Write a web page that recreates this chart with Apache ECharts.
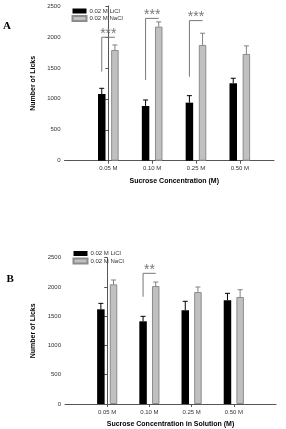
<!DOCTYPE html>
<html>
<head>
<meta charset="utf-8">
<script src="https://cdn.jsdelivr.net/npm/echarts@6/dist/echarts.min.js"></script>
<style>
html, body { margin: 0; padding: 0; background: #fff; }
#chart { width: 286px; height: 429px; }
</style>
</head>
<body>
<div id="chart"></div>
<script>
// categories and legend names
const categories = ['0.05 M', '0.10 M', '0.25 M', '0.50 M']
const seriesNames = ['0.02 M LiCl', '0.02 M NaCl']

// panel A: mean licks and SEM
const liclA = [1078, 884, 938, 1251]
const liclErrA = [92, 97, 113, 81]
const naclA = [1790, 2167, 1871, 1725]
const naclErrA = [80, 76, 189, 130]
// panel A significance brackets
const sigCatA = [0, 1, 2]
const sigLowA = [1440, 1305, 1358]
const sigHighA = [1995, 2300, 2264]
const sigMarkA = ['***', '***', '***']

// panel B
const liclB = [1618, 1413, 1601, 1771]
const liclErrB = [102, 85, 154, 120]
const naclB = [2045, 2016, 1913, 1828]
const naclErrB = [74, 68, 86, 125]
const sigCatB = [1]
const sigLowB = [1833]
const sigHighB = [2233]
const sigMarkB = ['**']

const yTicks = [0, 500, 1000, 1500, 2000, 2500]

const OFF = 0.15 // bar offset from category centre
const FONT = 'Liberation Sans, Arial, sans-serif'

const chart = echarts.init(document.getElementById('chart'))

function xAxisFor(gridIndex, max, name, pad) {
  return {
    type: 'value', gridIndex, min: -1, max: max, interval: 1,
    name: name, nameLocation: 'middle', nameGap: 17,
    nameTextStyle: { fontFamily: FONT, fontWeight: 'bold', fontSize: 7, color: '#000', padding: pad },
    axisLine: { lineStyle: { color: '#555', width: 1 } },
    axisTick: { length: 3, lineStyle: { color: '#555' } },
    axisLabel: {
      fontFamily: FONT, fontSize: 6, color: '#333', margin: 5,
      showMinLabel: false, showMaxLabel: false,
      formatter: v => categories[v] || ''
    },
    splitLine: { show: false }
  }
}

function yAxisFor(gridIndex, gap) {
  return {
    type: 'value', gridIndex, min: yTicks[0], max: yTicks[yTicks.length - 1], interval: 500,
    name: 'Number of Licks', nameLocation: 'middle', nameGap: gap,
    nameTextStyle: { fontFamily: FONT, fontWeight: 'bold', fontSize: 7, color: '#000' },
    axisLine: { show: true, lineStyle: { color: '#555', width: 1 } },
    axisTick: { show: true, length: 3, lineStyle: { color: '#555' } },
    axisLabel: { fontFamily: FONT, fontSize: 6, color: '#333', margin: 4, formatter: v => String(v) },
    splitLine: { show: false }
  }
}

function bars(idx, name, vals, color, border) {
  return {
    name: name, type: 'bar', xAxisIndex: idx, yAxisIndex: idx,
    barWidth: 7.5, barGap: '-100%',
    itemStyle: { color: color, borderColor: border, borderWidth: border ? 1 : 0 },
    data: vals.map((v, i) => [i + (name === seriesNames[0] ? -OFF : OFF), v]),
    z: 2
  }
}

function errBars(idx, vals, errs, dx, color) {
  return {
    type: 'custom', xAxisIndex: idx, yAxisIndex: idx, z: 3, silent: true,
    data: vals.map((v, i) => [i + dx, v, errs[i]]),
    renderItem(params, api) {
      const x = api.value(0), top = api.value(1), e = api.value(2)
      const p0 = api.coord([x, top])
      const p1 = api.coord([x, top + e])
      const st = { stroke: color, lineWidth: 1 }
      return {
        type: 'group', children: [
          { type: 'line', shape: { x1: p0[0], y1: p0[1], x2: p1[0], y2: p1[1] }, style: st },
          { type: 'line', shape: { x1: p1[0] - 2.5, y1: p1[1], x2: p1[0] + 2.5, y2: p1[1] }, style: st }
        ]
      }
    }
  }
}

function brackets(idx, cats, lows, highs, marks) {
  return {
    type: 'custom', xAxisIndex: idx, yAxisIndex: idx, z: 4, silent: true,
    data: cats.map((c, i) => [c, lows[i], highs[i]]),
    renderItem(params, api) {
      const c = api.value(0)
      const a = api.coord([c - OFF, api.value(1)])
      const b = api.coord([c - OFF, api.value(2)])
      const d = api.coord([c + OFF, api.value(2)])
      return {
        type: 'group', children: [
          { type: 'polyline', shape: { points: [a, b, d] }, style: { stroke: '#777', lineWidth: 1, fill: null } },
          {
            type: 'text',
            style: {
              text: marks[params.dataIndex], x: (b[0] + d[0]) / 2, y: b[1] - 3,
              align: 'center', verticalAlign: 'middle', textAlign: 'center', textVerticalAlign: 'middle',
              font: '14px ' + FONT, fill: '#777'
            }
          }
        ]
      }
    }
  }
}

const legendBase = {
  orient: 'vertical', itemWidth: 14, itemHeight: 5, itemGap: 1, icon: 'rect', padding: 0,
  data: seriesNames, selectedMode: false,
  textStyle: { fontFamily: FONT, fontSize: 6, color: '#333', lineHeight: 6, padding: [0, 0, 0, -2] }
}

const letterStyle = { fontFamily: 'Liberation Serif, serif', fontWeight: 'bold', fontSize: 11, color: '#000' }

chart.setOption({
  animation: false,
  title: [
    { text: 'A', left: -2, top: 16, textStyle: letterStyle },
    { text: 'B', left: 1.5, top: 269, textStyle: letterStyle }
  ],
  legend: [
    Object.assign({}, legendBase, { left: 71.5, top: 8 }),
    Object.assign({}, legendBase, { left: 72.5, top: 250.5 })
  ],
  grid: [
    { left: 64.5, top: 6, width: 209.5, height: 154.7 },
    { left: 65, top: 257.7, width: 211, height: 146.3 }
  ],
  xAxis: [
    xAxisFor(0, 3.78, 'Sucrose Concentration (M)', [0, 0, 0, 10]),
    xAxisFor(1, 4, 'Sucrose Concentration in Solution (M)', 0)
  ],
  yAxis: [yAxisFor(0, 24), yAxisFor(1, 23)],
  series: [
    bars(0, seriesNames[0], liclA, '#000'),
    bars(0, seriesNames[1], naclA, '#c0c0c0', '#8c8c8c'),
    errBars(0, liclA, liclErrA, -OFF, '#000'),
    errBars(0, naclA, naclErrA, OFF, '#808080'),
    brackets(0, sigCatA, sigLowA, sigHighA, sigMarkA),
    bars(1, seriesNames[0], liclB, '#000'),
    bars(1, seriesNames[1], naclB, '#c0c0c0', '#8c8c8c'),
    errBars(1, liclB, liclErrB, -OFF, '#000'),
    errBars(1, naclB, naclErrB, OFF, '#808080'),
    brackets(1, sigCatB, sigLowB, sigHighB, sigMarkB)
  ]
})
</script>
</body>
</html>
